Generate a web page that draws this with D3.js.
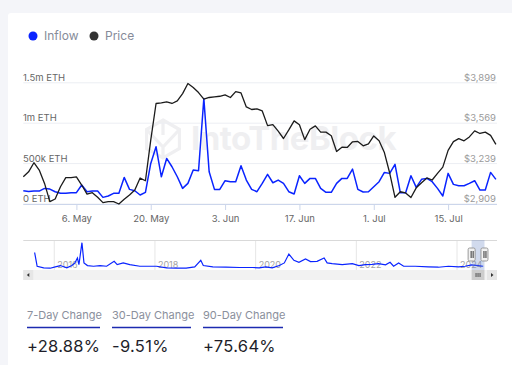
<!DOCTYPE html>
<html><head><meta charset="utf-8">
<script src="https://cdn.jsdelivr.net/npm/d3@7"></script>
<style>
html,body{margin:0;padding:0;background:#f4f5f9;}
svg{display:block;font-family:Inter,"Liberation Sans",Arial,sans-serif;}
</style></head><body>
<svg id="c" width="512" height="365"></svg>
<script>
// ---------- data ----------
const startDate = "2024-04-26";
const inflow = [164,156,160,160,193,185,152,132,132,140,
  140,235,152,160,160,82,99,132,132,329,
  181,164,111,144,502,708,337,564,461,337,
  193,255,420,412,1305,399,181,181,288,276,
  276,473,296,181,152,255,367,263,296,255,
  152,124,350,255,317,317,193,144,144,255,
  317,317,432,181,148,152,214,276,391,379,
  490,140,140,350,206,305,317,276,193,99,
  379,243,226,226,255,288,173,173,391,305];
const price = [3131,3172,3246,3186,3077,2928,2950,3050,3124,3124,
  3131,3064,2990,3001,2964,2920,2928,2928,2909,2947,
  2982,3023,3121,3099,3431,3730,3735,3743,3730,3751,
  3811,3893,3860,3819,3765,3779,3784,3789,3800,3779,
  3827,3816,3702,3681,3686,3669,3549,3557,3504,3444,
  3514,3588,3557,3435,3520,3547,3496,3496,3467,3338,
  3373,3371,3417,3420,3384,3400,3465,3425,3329,3162,
  2964,3009,2999,2962,3041,3083,3122,3105,3159,3210,
  3347,3418,3443,3425,3457,3506,3485,3496,3470,3396];
const xTickDates = ["2024-05-06","2024-05-20","2024-06-03","2024-06-17","2024-07-01","2024-07-15"];
const inflowTicks = [0,500,1000,1500];
const inflowTickLabels = ["0 ETH","500k ETH","1m ETH","1.5m ETH"];
const priceTicks = [2909,3239,3569,3899];
const priceTickLabels = ["$2,909","$3,239","$3,569","$3,899"];
const navYears = [2015.61,2015.66,2015.79,2015.92,2016.02,2016.12,2016.25,2016.35,2016.41,2016.46,2016.49,2016.55,2016.59,2016.66,2016.78,2016.91,
  2017.04,2017.19,2017.25,2017.37,2017.50,2017.70,2017.83,2018.03,2018.23,2018.43,2018.62,2018.79,2018.91,2018.96,
  2019.15,2019.41,2019.68,2019.94,2020.07,2020.20,2020.33,2020.47,2020.57,2020.66,2020.76,2020.86,2020.99,
  2021.09,2021.22,2021.36,2021.42,2021.52,2021.72,2021.92,2022.05,2022.18,2022.31,2022.44,2022.58,2022.67,2022.74,2022.84,2022.94,
  2023.17,2023.43,2023.63,2023.83,2024.03,2024.16,2024.29,2024.42,2024.52];
const navValues = [1630,230,70,30,170,300,70,300,570,1070,400,2630,570,300,230,300,
  230,730,400,570,400,230,230,230,70,30,40,170,830,300,
  170,130,100,100,70,170,70,300,570,1470,830,630,970,
  700,730,1070,570,500,400,500,300,400,430,500,370,630,230,570,230,
  230,170,130,230,170,230,370,300,230];
const navTickYears = [2016,2018,2020,2022,2024];
const seriesNames = ["Inflow","Price"];
const changeLabels = ["7-Day Change","30-Day Change","90-Day Change"];
const changeValues = ["+28.88%","-9.51%","+75.64%"];

// ---------- drawing ----------
const BLUE = "#0a24ff", DARK = "#1b1b1b";
const svg = d3.select("#c");
svg.append("rect").attr("x",8).attr("y",13).attr("width",510).attr("height",360).attr("rx",3).attr("fill","#fff");

const parse = d3.utcParse("%Y-%m-%d");
const t0 = parse(startDate);
const dates = inflow.map((_, i) => d3.utcDay.offset(t0, i));
const L = 23.3, R = 495.9, TOP = 82.8, BOT = 204;

const x = d3.scaleUtc().domain([dates[0], dates[dates.length-1]]).range([L, R]);
const yIn = d3.scaleLinear().domain([0,1500]).range([BOT, TOP]);
const yPr = d3.scaleLinear().domain([2909,3899]).range([BOT, TOP]);

// legend
const leg = svg.append("g");
[[33,BLUE],[94,"#333"]].forEach(([cx,c],i)=>{
  leg.append("circle").attr("cx",cx).attr("cy",36).attr("r",4.5).attr("fill",c);
  leg.append("text").attr("x",cx+11).attr("y",40.2).attr("font-size",12).attr("fill","#868b99").text(seriesNames[i]);
});

// watermark
const wm = svg.append("g").attr("fill","none").attr("stroke","#efeff1").attr("stroke-width",3.2);
const hc = [163,139], hr = 19;
const hex = d3.range(6).map(k=>{const a=Math.PI/3*k - Math.PI/2; return [hc[0]+hr*Math.cos(a), hc[1]+hr*Math.sin(a)];});
wm.append("path").attr("d", d3.line()(hex)+"Z");
wm.append("path").attr("d", `M${hex[5][0]},${hex[5][1]}L${hc[0]},${hc[1]+8}L${hex[1][0]},${hex[1][1]}M${hc[0]},${hc[1]+8}L${hc[0]},${hex[3][1]}M${hex[0][0]},${hex[0][1]}L${hc[0]},${hc[1]-4}`);
svg.append("text").attr("x",191).attr("y",150).attr("font-size",33).attr("font-weight",700)
  .attr("fill","#efeff1").attr("letter-spacing",-0.5).text("IntoTheBlock");

// gridlines
svg.append("g").selectAll("line").data(inflowTicks).join("line")
  .attr("x1",L).attr("x2",497).attr("y1",d=>yIn(d)).attr("y2",d=>yIn(d))
  .attr("stroke","#eceef3").attr("stroke-width",1);
// left labels
svg.append("g").selectAll("text").data(inflowTicks).join("text")
  .attr("x",23).attr("y",d=>yIn(d)-2).attr("font-size",9.5).attr("fill","#666")
  .text((d,i)=>inflowTickLabels[i]);
// right labels
svg.append("g").selectAll("text").data(priceTicks).join("text")
  .attr("x",496).attr("y",d=>yPr(d)-2).attr("font-size",9.5).attr("fill","#9a9a9a").attr("text-anchor","end")
  .text((d,i)=>priceTickLabels[i]);

// x axis
const xa = svg.append("g").attr("transform",`translate(0,${BOT})`)
  .call(d3.axisBottom(x).tickValues(xTickDates.map(parse)).tickFormat(d3.utcFormat("%-d. %b")).tickSize(6).tickSizeOuter(0));
xa.select(".domain").attr("stroke","#ccd6eb").attr("d",`M${L},0.5H497`);
xa.selectAll(".tick line").attr("stroke","#ccd6eb");
xa.selectAll("text").attr("font-size",9.5).attr("fill","#666").attr("font-family","Inter,Arial,sans-serif").attr("dy","0.9em");

// lines
svg.append("path").datum(inflow).attr("fill","none").attr("stroke",BLUE).attr("stroke-width",1.5)
  .attr("stroke-linejoin","round")
  .attr("d", d3.line().x((d,i)=>x(dates[i])).y(d=>yIn(d)));
svg.append("path").datum(price).attr("fill","none").attr("stroke",DARK).attr("stroke-width",1.3)
  .attr("stroke-linejoin","round")
  .attr("d", d3.line().x((d,i)=>x(dates[i])).y(d=>yPr(d)));

// navigator
const NT = 240, NB = 270;
const xn = d3.scaleLinear().domain([2015.385, 2024.794]).range([L, 497]);
const yn = d3.scaleLinear().domain([0, 2700]).range([268.5, 242]);
const nav = svg.append("g");
nav.selectAll("line.g").data(navTickYears).join("line").attr("class","g")
  .attr("x1",d=>xn(d)).attr("x2",d=>xn(d)).attr("y1",NT).attr("y2",NB).attr("stroke","#e6e6e6");
nav.append("line").attr("x1",L).attr("x2",497).attr("y1",NT+0.5).attr("y2",NT+0.5).attr("stroke","#d9d9d9");
nav.selectAll("text").data(navTickYears).join("text")
  .attr("x",d=>xn(d)+3).attr("y",267.5).attr("font-size",9).attr("fill","#a3a3a3").text(d=>d);
nav.append("path").datum(navValues).attr("fill","none").attr("stroke",BLUE).attr("stroke-width",1.2)
  .attr("d", d3.line().x((d,i)=>xn(navYears[i])).y(d=>yn(d)));
const s0 = xn(2024.29), s1 = xn(2024.545);
nav.append("rect").attr("x",s0).attr("y",NT).attr("width",s1-s0).attr("height",NB-NT).attr("fill","rgba(102,133,194,0.3)");
[s0,s1].forEach(h=>{
  nav.append("rect").attr("x",h-3.5).attr("y",248).attr("width",7).attr("height",13).attr("rx",1.5)
    .attr("fill","#f2f2f2").attr("stroke","#999");
  nav.append("line").attr("x1",h-0.5).attr("x2",h-0.5).attr("y1",251).attr("y2",258).attr("stroke","#333");
  nav.append("line").attr("x1",h+1.5).attr("x2",h+1.5).attr("y1",251).attr("y2",258).attr("stroke","#333");
});
// scrollbar
const sb = svg.append("g");
sb.append("rect").attr("x",L).attr("y",270).attr("width",497-L).attr("height",10).attr("fill","#f2f2f2");
sb.append("rect").attr("x",L).attr("y",270).attr("width",10).attr("height",10).attr("fill","#e6e6e6");
sb.append("rect").attr("x",487).attr("y",270).attr("width",10).attr("height",10).attr("fill","#e6e6e6");
sb.append("path").attr("d",`M${L+3.5},275L${L+6},273L${L+6},277Z`).attr("fill","#333");
sb.append("path").attr("d",`M493.5,275L491,273L491,277Z`).attr("fill","#333");
sb.append("rect").attr("x",s0).attr("y",270).attr("width",s1-s0).attr("height",10).attr("fill","#cccccc");
[-2,0,2].forEach(o=>sb.append("line").attr("x1",(s0+s1)/2+o).attr("x2",(s0+s1)/2+o).attr("y1",273).attr("y2",277).attr("stroke","#333").attr("stroke-width",0.8));

// change summary
const cx = [27,112,203], cw = [73,79,80];
const ch = svg.append("g");
changeLabels.forEach((lab,i)=>{
  ch.append("text").attr("x",cx[i]).attr("y",318.5).attr("font-size",11).attr("fill","#8a8f9c").text(lab);
  ch.append("line").attr("x1",cx[i]).attr("x2",cx[i]+cw[i]).attr("y1",327.5).attr("y2",327.5).attr("stroke","#1c2bb0").attr("stroke-width",1.4);
  ch.append("text").attr("x",cx[i]).attr("y",351.5).attr("font-size",16.5).attr("fill","#1e1e2a").attr("letter-spacing",0.3).text(changeValues[i]);
});
</script>
</body></html>
